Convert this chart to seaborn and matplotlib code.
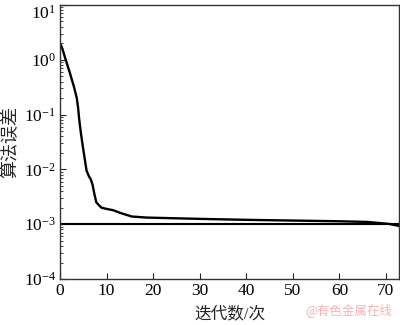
import matplotlib
matplotlib.use("Agg")
import matplotlib.pyplot as plt
import matplotlib.transforms as mtransforms
import seaborn as sns
import pandas as pd
from matplotlib.ticker import LogLocator, NullFormatter, MultipleLocator

# iteration number vs algorithm error
iters = [0, 0.5, 1, 2, 3, 3.6, 3.9, 4.1, 4.5, 5, 5.7, 6.2, 6.6, 7, 7.4, 7.8,
         8.4, 8.9, 10, 11.4, 13, 15.4, 18.6, 25, 30, 40, 51.4, 60, 66, 70.7,
         72.8]
errors = [2.0, 1.6, 1.15, 0.62, 0.32, 0.2, 0.13, 0.085, 0.045, 0.023,
          0.0095, 0.0075, 0.0066, 0.0052, 0.0035, 0.0025, 0.0022, 0.0020,
          0.0019, 0.0018, 0.0016, 0.00138, 0.00132, 0.00128, 0.00125,
          0.0012, 0.00116, 0.00113, 0.0011, 0.00101, 0.00093]
target = 1e-3

df = pd.DataFrame({"iter": iters, "err": errors})

sns.set_style("white")
plt.rcParams["font.family"] = ["Liberation Serif", "Noto Sans CJK SC"]
plt.rcParams["mathtext.fontset"] = "stix"

fig = plt.figure(figsize=(4, 3.25), dpi=100)
ax = fig.add_axes([0.15, 0.1415, 0.8475, 0.8435])

sns.lineplot(data=df, x="iter", y="err", color="black", linewidth=1.7, ax=ax)
ax.axhline(target, color="black", linewidth=1.5)

ax.set_yscale("log")
ax.set_ylim(1e-4, 10)
ax.set_xlim(0, 72.8)
ax.xaxis.set_major_locator(MultipleLocator(10))
ax.yaxis.set_major_locator(LogLocator(base=10, numticks=10))
ax.yaxis.set_minor_locator(LogLocator(base=10, subs=range(2, 10), numticks=10))
ax.yaxis.set_minor_formatter(NullFormatter())

ax.tick_params(axis="both", which="both", left=True, bottom=True,
               top=False, right=False, direction="in")
ax.tick_params(axis="both", which="major", length=4, width=0.8,
               labelsize=12.5, pad=3, colors="#222222", labelcolor="black")
ax.tick_params(axis="y", which="minor", length=2, width=0.6)
for s in ax.spines.values():
    s.set_linewidth(1.0)
    s.set_color("#333333")

ax.set_xlabel("迭代数/次", fontsize=12, labelpad=5)
ax.set_ylabel("算法误差", fontsize=13, labelpad=3)

# the top label (10^1) sits a little lower so it stays inside the figure
fig.canvas.draw()
for tick in ax.yaxis.get_major_ticks():
    if abs(tick.get_loc() - 10) < 1e-9:
        shift = mtransforms.ScaledTranslation(0, -5 / 72, fig.dpi_scale_trans)
        tick.label1.set_transform(tick.label1.get_transform() + shift)

fig.text(0.98, 0.025, "@有色金属在线", color="#f2b5b5", fontsize=9,
         ha="right", va="bottom", family=["Noto Sans CJK SC"])

fig.savefig("out.png", dpi=100)
